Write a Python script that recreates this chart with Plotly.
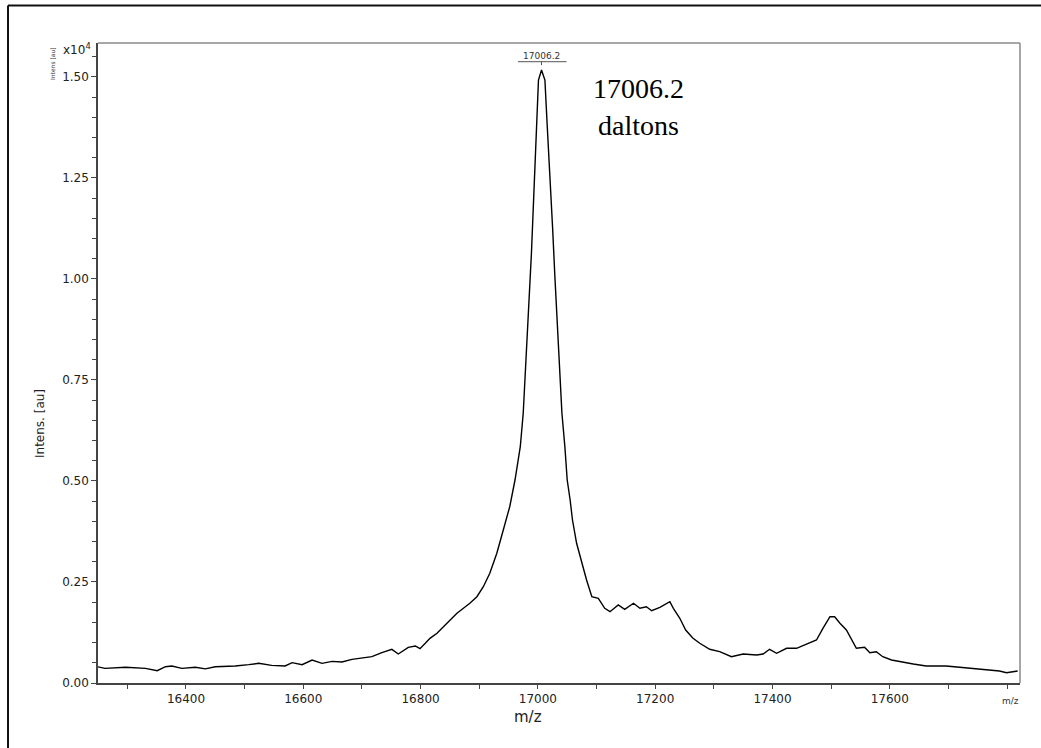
import plotly.graph_objects as go

# ---- data ----
mz = [16250, 16262, 16297, 16331, 16351, 16365, 16376, 16393, 16416, 16433,
      16450, 16484, 16507, 16524, 16546, 16569, 16581, 16598, 16615, 16632,
      16649, 16666, 16683, 16700, 16717, 16734, 16751, 16762, 16779, 16791,
      16799, 16808, 16816, 16828, 16839, 16850, 16862, 16873, 16884, 16896,
      16907, 16918, 16930, 16941, 16952, 16961, 16970, 16975, 16978, 16981,
      16985, 16989, 16992, 16995, 16998, 17001, 17006.2, 17012, 17016, 17021,
      17025, 17029, 17033, 17038, 17041, 17046, 17050, 17055, 17059, 17066,
      17075, 17083, 17092, 17103, 17114, 17123, 17137, 17148, 17163, 17174,
      17185, 17194, 17208, 17225, 17231, 17242, 17252, 17264, 17276, 17293,
      17310, 17330, 17350, 17373, 17384, 17395, 17407, 17424, 17441, 17458,
      17475, 17486, 17498, 17506, 17515, 17526, 17535, 17543, 17557, 17566,
      17577, 17588, 17603, 17617, 17640, 17662, 17696, 17719, 17742, 17765,
      17787, 17799, 17818]
intensity = [400, 363, 388, 363, 305, 403, 421, 363, 388, 350,
             403, 421, 454, 487, 437, 421, 503, 454, 569, 487,
             536, 520, 586, 619, 652, 751, 833, 718, 883, 916,
             850, 982, 1106, 1230, 1393, 1560, 1725, 1849, 1973, 2136,
             2383, 2715, 3210, 3787, 4363, 5024, 5848, 6675, 7499, 8160,
             9232, 10635, 11707, 12944, 14016, 14924, 15170, 14924, 13769, 12531,
             11293, 10056, 8818, 7581, 6675, 5848, 5024, 4529, 4034, 3458,
             2962, 2549, 2136, 2096, 1849, 1765, 1931, 1824, 1973, 1849,
             1888, 1789, 1874, 2012, 1849, 1601, 1312, 1114, 983, 834,
             775, 651, 718, 693, 718, 834, 735, 859, 859, 965,
             1064, 1354, 1641, 1641, 1478, 1312, 1064, 859, 884, 750,
             775, 651, 569, 527, 470, 421, 421, 389, 364, 339,
             297, 255, 297]

peak_mz = 17006.2
peak_label = "17006.2"
big_label_1 = "17006.2"
big_label_2 = "daltons"

x_tickvals = [16400, 16600, 16800, 17000, 17200, 17400, 17600]
x_ticktext = ["16400", "16600", "16800", "17000", "17200", "17400", "17600"]
x_minorvals = list(range(16300, 17801, 100))
y_tickvals = [0, 2500, 5000, 7500, 10000, 12500, 15000]
y_ticktext = ["0.00", "0.25", "0.50", "0.75", "1.00", "1.25", "1.50"]
y_minorvals = list(range(0, 15501, 500))

tickfont = dict(family="DejaVu Sans", size=12, color="#222")

fig = go.Figure()
fig.add_trace(go.Scatter(x=mz, y=intensity, mode="lines",
                         line=dict(color="black", width=1.4),
                         showlegend=False, hoverinfo="skip"))

fig.update_layout(
    width=1041, height=748,
    margin=dict(l=98, r=21, t=43, b=65),
    paper_bgcolor="white", plot_bgcolor="white",
    xaxis=dict(range=[16250, 17822], tickmode="array", tickvals=x_tickvals,
               ticktext=x_ticktext,
               ticks="outside", ticklen=4, tickcolor="#444", tickwidth=1,
               showline=True, linecolor="#444", linewidth=1.5,
               showgrid=False, zeroline=False, tickfont=tickfont,
               minor=dict(tickmode="array", tickvals=x_minorvals, ticks="outside",
                          ticklen=4, tickcolor="#444", showgrid=False)),
    yaxis=dict(range=[0, 15840], tickmode="array", tickvals=y_tickvals,
               ticktext=y_ticktext, ticks="outside", ticklen=5, tickcolor="#444",
               showline=True, linecolor="#444", linewidth=1.5,
               showgrid=False, zeroline=False, tickfont=tickfont,
               minor=dict(tickmode="array", tickvals=y_minorvals, ticks="outside",
                          ticklen=4, tickcolor="#444", showgrid=False)),
)

shapes = []
# gray top/right frame of plot area
shapes.append(dict(type="line", xref="paper", yref="paper", x0=0, x1=1, y0=1, y1=1,
                   line=dict(color="#8a8a8a", width=1.5)))
shapes.append(dict(type="line", xref="paper", yref="paper", x0=1, x1=1, y0=0, y1=1,
                   line=dict(color="#8a8a8a", width=1.5)))
# outer border (left and top visible)
shapes.append(dict(type="line", xref="paper", yref="paper", x0=-0.0976, x1=-0.0976,
                   y0=-0.2, y1=1.0585, line=dict(color="#111", width=2)))
shapes.append(dict(type="line", xref="paper", yref="paper", x0=-0.0976, x1=1.1,
                   y0=1.0585, y1=1.0585, line=dict(color="#111", width=2)))
# peak label bar and tick
shapes.append(dict(type="line", xref="x", yref="y", x0=16966, x1=17049, y0=15377, y1=15377,
                   line=dict(color="#555", width=1)))
shapes.append(dict(type="line", xref="x", yref="y", x0=peak_mz, x1=peak_mz, y0=15377, y1=15290,
                   line=dict(color="#555", width=1)))
fig.update_layout(shapes=shapes)


def px(xp):
    return (xp - 98) / 922


def py(yp):
    return (683 - yp) / 640


ann = []
ann.append(dict(x=peak_mz, y=15377, xref="x", yref="y", text=peak_label, showarrow=False,
                xanchor="center", yanchor="bottom", yshift=-1,
                font=dict(family="DejaVu Sans", size=9, color="#333")))
ann.append(dict(x=px(638.5), y=py(88), xref="paper", yref="paper",
                text=big_label_1, showarrow=False, xanchor="center", yanchor="middle",
                font=dict(family="Liberation Serif", size=28, color="black")))
ann.append(dict(x=px(638.5), y=py(125), xref="paper", yref="paper",
                text=big_label_2, showarrow=False, xanchor="center", yanchor="middle",
                font=dict(family="Liberation Serif", size=28, color="black")))
ann.append(dict(x=px(528), y=py(717), xref="paper", yref="paper",
                text="m/z", showarrow=False, xanchor="center", yanchor="middle",
                font=dict(family="DejaVu Sans", size=15, color="#222")))
ann.append(dict(x=px(1010), y=py(701), xref="paper", yref="paper",
                text="m/z", showarrow=False, xanchor="center", yanchor="middle",
                font=dict(family="DejaVu Sans", size=9, color="#333")))
ann.append(dict(x=px(40), y=py(423), xref="paper", yref="paper",
                text="Intens. [au]", showarrow=False, textangle=-90,
                xanchor="center", yanchor="middle",
                font=dict(family="DejaVu Sans", size=12, color="#222")))
ann.append(dict(x=px(52), y=py(64), xref="paper", yref="paper",
                text="Intens [au]", showarrow=False, textangle=-90,
                xanchor="center", yanchor="middle",
                font=dict(family="DejaVu Sans", size=6, color="#333")))
ann.append(dict(x=px(93), y=py(49), xref="paper", yref="paper",
                text="x10<sup>4</sup>", showarrow=False,
                xanchor="right", yanchor="middle",
                font=dict(family="DejaVu Sans", size=12, color="#222")))
fig.update_layout(annotations=ann)

fig.write_html("out.html")
